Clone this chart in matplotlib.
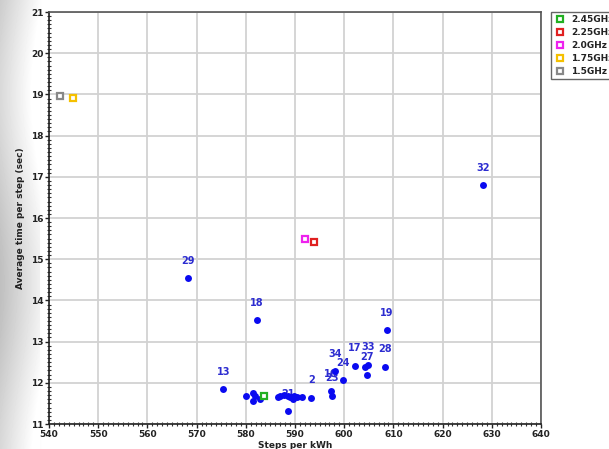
import numpy as np
import matplotlib
matplotlib.use("Agg")
import matplotlib.pyplot as plt
from matplotlib.ticker import MultipleLocator
from matplotlib.lines import Line2D

# ---- data ----
run_labels = ["13", "18", "29", "32", "19", "2", "21", "16", "23", "34", "24",
              "17", "33", "27", "28", "",
              "", "", "", "", "", "", "", "", "", "", "", "", "", ""]
run_x = [575.45, 582.3, 568.2, 628.2, 608.6, 593.3, 588.6, 597.3, 597.6, 598.2, 599.7,
         602.1, 604.8, 604.7, 608.3, 604.2,
         580.0, 581.4, 581.9, 581.5, 582.8, 586.5, 587.0, 587.8, 588.5, 589.0,
         589.6, 589.8, 590.4, 591.4]
run_y = [11.84, 13.52, 14.54, 16.79, 13.28, 11.64, 11.31, 11.80, 11.68, 12.28, 12.06,
         12.41, 12.44, 12.19, 12.39, 12.38,
         11.69, 11.75, 11.67, 11.56, 11.60, 11.66, 11.69, 11.71, 11.67, 11.65,
         11.60, 11.69, 11.65, 11.65]

freq_labels = ["2.45GHz", "2.25GHz", "2.0GHz", "1.75GHz", "1.5GHz"]
freq_x = [583.7, 593.9, 592.0, 544.8, 542.2]
freq_y = [11.68, 15.42, 15.48, 18.91, 18.96]
freq_colors = ["#22b022", "#e02020", "#ee22ee", "#f5c000", "#888888"]

x_label = "Steps per kWh"
y_label = "Average time per step (sec)"

# ---- figure ----
W, H = 609, 449
fig = plt.figure(figsize=(W / 100, H / 100), dpi=100)
fig.patch.set_facecolor("white")

# left grey gradient background
bg = fig.add_axes([0, 0, 1, 1], zorder=-10)
cols = np.arange(W)
row = np.clip(0.80 + 0.20 * cols / 42.0, 0, 1)
img = np.tile(row, (H, 1))
yy = np.arange(H)[:, None]
img = np.clip(img + 0.05 * np.sin(yy / 60.0) * (cols[None, :] < 40), 0, 1)
bg.imshow(img, cmap="gray", vmin=0, vmax=1, aspect="auto", extent=[0, W, H, 0])
bg.set_axis_off()

ax = fig.add_axes([49 / W, 1 - 424 / H, (541 - 49) / W, (424 - 12) / H])
ax.set_facecolor("white")

fs = 6.5
bold = dict(fontweight="bold", fontsize=fs)

for lab, x, y in zip(run_labels, run_x, run_y):
    if lab:
        ax.annotate(lab, (x, y), xytext=(0, 12.6), textcoords="offset points",
                    ha="center", va="center", color="#2c2cd0",
                    fontsize=7, fontweight="bold", zorder=3)

ax.plot(run_x, run_y, linestyle="none", marker="o", markersize=5,
        color="#0a0af0", markeredgewidth=0, zorder=4)

handles = []
for lab, x, y, c in zip(freq_labels, freq_x, freq_y, freq_colors):
    ax.plot([x], [y], linestyle="none", marker="s", markersize=4.5,
            markerfacecolor="white", markeredgecolor=c, markeredgewidth=1.6, zorder=5)
    handles.append(Line2D([], [], linestyle="none", marker="s", markersize=4.2,
                          markerfacecolor="white", markeredgecolor=c,
                          markeredgewidth=1.6, label=lab))

ax.set_xlim(540, 640)
ax.set_ylim(11, 21)
ax.xaxis.set_major_locator(MultipleLocator(10))
ax.xaxis.set_minor_locator(MultipleLocator(1))
ax.yaxis.set_major_locator(MultipleLocator(1))
ax.yaxis.set_minor_locator(MultipleLocator(0.1))

ax.grid(True, which="major", color="#d2d2d2", linewidth=1.3, zorder=0)
ax.set_axisbelow(True)

ax.tick_params(which="major", direction="out", length=3, width=1, color="#222222",
               labelsize=fs, pad=1, labelcolor="#222222")
ax.tick_params(which="minor", direction="inout", length=3, width=0.8, color="#333333")
for t in ax.get_xticklabels() + ax.get_yticklabels():
    t.set_fontweight("bold")

for s in ["left", "bottom"]:
    ax.spines[s].set_color("#222222")
    ax.spines[s].set_linewidth(1.2)
for s in ["top", "right"]:
    ax.spines[s].set_color("#555555")
    ax.spines[s].set_linewidth(1.2)

ax.set_xlabel(x_label, labelpad=2, color="#222222", **bold)
ax.set_ylabel(y_label, labelpad=4, color="#222222", **bold)

leg = fig.legend(handles=handles, loc="upper left",
                 bbox_to_anchor=(550.5 / W, 1 - 11.5 / H), bbox_transform=fig.transFigure,
                 borderaxespad=0, frameon=True, fancybox=False, framealpha=1,
                 edgecolor="#666666", prop=dict(weight="bold", size=6.5),
                 handlelength=1.4, handletextpad=0.5, labelspacing=0.45,
                 borderpad=0.35)
leg.get_frame().set_linewidth(1.0)
for t in leg.get_texts():
    t.set_color("#222222")

fig.savefig("out.png", dpi=100)
